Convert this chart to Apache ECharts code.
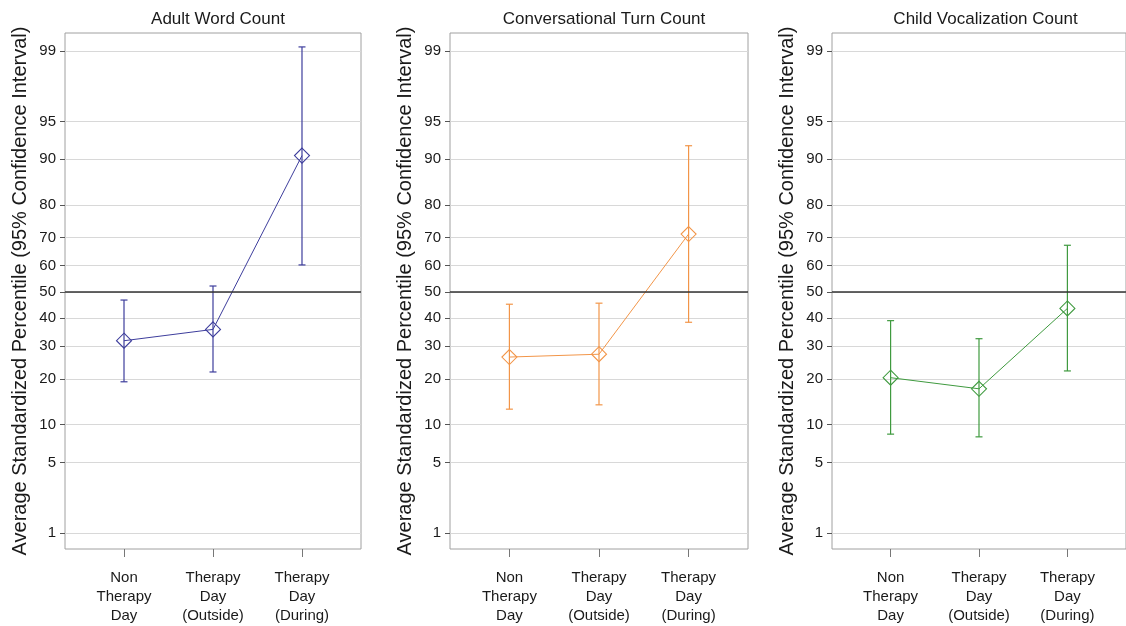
<!DOCTYPE html>
<html>
<head>
<meta charset="utf-8">
<script src="https://cdn.jsdelivr.net/npm/echarts@6/dist/echarts.min.js"></script>
<style>
  html, body { margin: 0; padding: 0; background: #fff; }
  #main { width: 1126px; height: 626px; }
</style>
</head>
<body>
<div id="main"></div>
<script>
// percentiles (probit scale)
let categories = ['Non\nTherapy\nDay', 'Therapy\nDay\n(Outside)', 'Therapy\nDay\n(During)']
let panelTitles = ['Adult Word Count', 'Conversational Turn Count', 'Child Vocalization Count']
let panelColors = ['#3d3d9c', '#f29548', '#3f9a3f']

let awcMean = [31.9, 35.9, 90.6]
let awcLow = [19.3, 22.0, 60.3]
let awcHigh = [46.9, 52.3, 99.1]

let ctcMean = [26.5, 27.4, 71.2]
let ctcLow = [12.9, 13.8, 38.5]
let ctcHigh = [45.3, 45.7, 92.1]

let cvcMean = [20.4, 17.5, 43.7]
let cvcLow = [8.5, 8.1, 22.3]
let cvcHigh = [39.1, 32.6, 67.4]

let yTicks = [1, 5, 10, 20, 30, 40, 50, 60, 70, 80, 90, 95, 99]

// inverse normal cdf (Acklam), percent -> z
function probit(pct) {
    let p = pct / 100
    let a = [-3.969683028665376e+01, 2.209460984245205e+02, -2.759285104469687e+02, 1.383577518672690e+02, -3.066479806614716e+01, 2.506628277459239e+00]
    let b = [-5.447609879822406e+01, 1.615858368580409e+02, -1.556989798598866e+02, 6.680131188771972e+01, -1.328068155288572e+01]
    let c = [-7.784894002430293e-03, -3.223964580411365e-01, -2.400758277161838e+00, -2.549732539343734e+00, 4.374664141464968e+00, 2.938163982698783e+00]
    let d = [7.784695709041462e-03, 3.224671290700398e-01, 2.445134137142996e+00, 3.754408661907416e+00]
    let pl = 0.02425, q, r
    if (p < pl) {
        q = Math.sqrt(-2 * Math.log(p))
        return (((((c[0]*q+c[1])*q+c[2])*q+c[3])*q+c[4])*q+c[5]) / ((((d[0]*q+d[1])*q+d[2])*q+d[3])*q+1)
    }
    if (p > 1 - pl) {
        q = Math.sqrt(-2 * Math.log(1 - p))
        return -(((((c[0]*q+c[1])*q+c[2])*q+c[3])*q+c[4])*q+c[5]) / ((((d[0]*q+d[1])*q+d[2])*q+d[3])*q+1)
    }
    q = p - 0.5
    r = q * q
    return (((((a[0]*r+a[1])*r+a[2])*r+a[3])*r+a[4])*r+a[5])*q / (((((b[0]*r+b[1])*r+b[2])*r+b[3])*r+b[4])*r+1)
}

let yTickZ = yTicks.map(probit)
let font = 'Liberation Sans, Arial, Helvetica, sans-serif'

let panels = [
    { mean: awcMean, low: awcLow, high: awcHigh, left: 65, width: 296 },
    { mean: ctcMean, low: ctcLow, high: ctcHigh, left: 450, width: 298 },
    { mean: cvcMean, low: cvcLow, high: cvcHigh, left: 832, width: 297 },
]

let grid = [], xAxis = [], yAxis = [], series = [], title = []

panels.forEach(function (pn, i) {
    let color = panelColors[i]
    grid.push({
        left: pn.left, top: 33, width: pn.width, height: 516,
        show: true, borderColor: '#a0a0a0', borderWidth: 1, backgroundColor: 'transparent'
    })
    title.push({
        text: panelTitles[i],
        left: pn.left + pn.width / 2, top: 6, textAlign: 'center',
        textStyle: { fontFamily: font, fontSize: 17, fontWeight: 'normal', color: '#1a1a1a' }
    })
    xAxis.push({
        type: 'value', gridIndex: i, min: 0.337, max: 3.663,
        axisLine: { show: false, onZero: false },
        axisTick: { show: true, length: 8, customValues: [1, 2, 3], lineStyle: { color: '#777' } },
        axisLabel: {
            customValues: [1, 2, 3], margin: 19, lineHeight: 19,
            fontFamily: font, fontSize: 15, color: '#1a1a1a',
            formatter: function (v) { return categories[Math.round(v) - 1] }
        },
        splitLine: { show: false }
    })
    yAxis.push({
        type: 'value', gridIndex: i, min: -2.481, max: 2.5,
        name: 'Average Standardized Percentile (95% Confidence Interval)',
        nameLocation: 'middle', nameGap: 35,
        nameTextStyle: { fontFamily: font, fontSize: 20, color: '#1a1a1a' },
        axisLine: { show: false, onZero: false },
        axisTick: { show: true, length: 5, customValues: yTickZ, lineStyle: { color: '#555' } },
        axisLabel: {
            customValues: yTickZ, margin: 9,
            fontFamily: font, fontSize: 15, color: '#1a1a1a',
            formatter: function (v) {
                let k = yTickZ.findIndex(function (z) { return Math.abs(z - v) < 1e-6 })
                return k >= 0 ? String(yTicks[k]) : ''
            }
        },
        splitLine: { show: true, lineStyle: { color: '#d8d8d8', width: 1 } }
    })

    let bars = pn.mean.map(function (m, k) { return [k + 1, probit(pn.low[k]), probit(pn.high[k])] })
    series.push({
        type: 'custom', xAxisIndex: i, yAxisIndex: i, z: 3,
        data: bars,
        encode: { x: 0, y: [1, 2] },
        renderItem: function (params, api) {
            let x = api.value(0)
            let lo = api.coord([x, api.value(1)])
            let hi = api.coord([x, api.value(2)])
            let hw = 3.5
            let st = { stroke: color, lineWidth: 1.2 }
            return {
                type: 'group',
                children: [
                    { type: 'line', shape: { x1: lo[0], y1: lo[1], x2: hi[0], y2: hi[1] }, style: st },
                    { type: 'line', shape: { x1: lo[0] - hw, y1: lo[1], x2: lo[0] + hw, y2: lo[1] }, style: st },
                    { type: 'line', shape: { x1: hi[0] - hw, y1: hi[1], x2: hi[0] + hw, y2: hi[1] }, style: st }
                ]
            }
        }
    })
    series.push({
        type: 'line', xAxisIndex: i, yAxisIndex: i, z: 4,
        data: pn.mean.map(function (m, k) { return [k + 1, probit(m)] }),
        symbol: 'diamond', symbolSize: 15, showSymbol: true,
        lineStyle: { color: color, width: 1 },
        itemStyle: { color: 'transparent', borderColor: color, borderWidth: 1.1 },
        markLine: {
            silent: true, symbol: 'none', label: { show: false },
            lineStyle: { color: '#333', width: 1.5, type: 'solid' },
            data: [{ yAxis: 0 }]
        },
        animation: false
    })
})

let myChart = echarts.init(document.getElementById('main'))
myChart.setOption({
    animation: false,
    title: title,
    grid: grid,
    xAxis: xAxis,
    yAxis: yAxis,
    series: series
})
</script>
</body>
</html>
